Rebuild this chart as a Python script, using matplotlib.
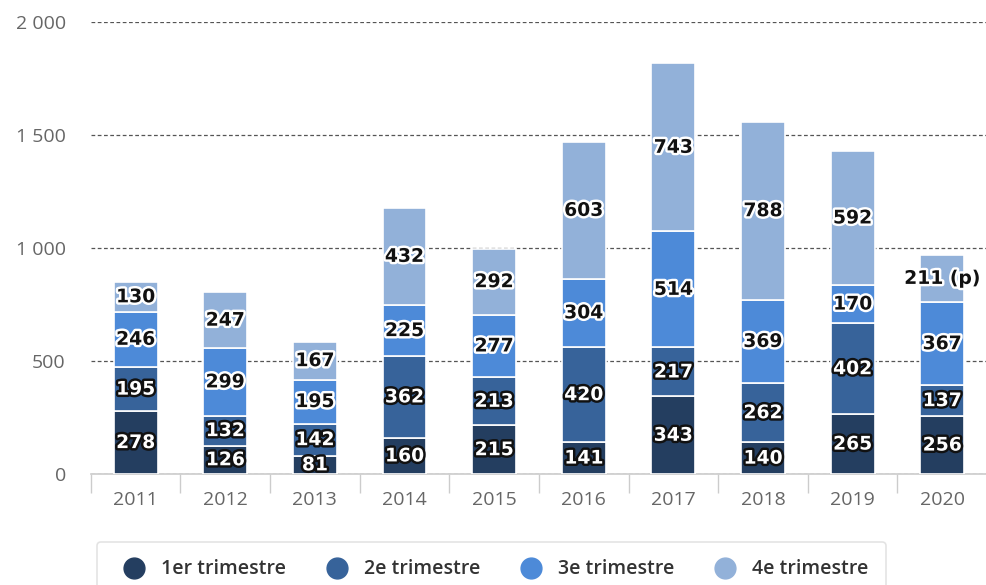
import numpy as np
import matplotlib.pyplot as plt
import matplotlib.patheffects as pe
from matplotlib.lines import Line2D

years = ['2011', '2012', '2013', '2014', '2015', '2016', '2017', '2018', '2019', '2020']
q1 = [278, 126, 81, 160, 215, 141, 343, 140, 265, 256]
q2 = [195, 132, 142, 362, 213, 420, 217, 262, 402, 137]
q3 = [246, 299, 195, 225, 277, 304, 514, 369, 170, 367]
q4 = [130, 247, 167, 432, 292, 603, 743, 788, 592, 211]
series = ['1er trimestre', '2e trimestre', '3e trimestre', '4e trimestre']
colors = ['#243e60', '#37639a', '#4d8ad8', '#92b1d9']

plt.rcParams['font.family'] = ['Open Sans', 'DejaVu Sans']

fig = plt.figure(figsize=(9.87, 5.85), dpi=100)
ax = fig.add_axes([90.8 / 987, 1 - 474 / 585, 1 - 90.8 / 987, (474 - 22) / 585])

x = np.arange(len(years))
bottom = np.zeros(len(years))
for k, vals in enumerate([q1, q2, q3, q4]):
    vals = np.array(vals)
    ax.bar(x, vals, width=0.49, bottom=bottom, color=colors[k],
           edgecolor='white', linewidth=1.2, zorder=3)
    for i, v in enumerate(vals):
        txt = str(v)
        if k == 3 and years[i] == '2020':
            txt = '211 (p)'
        if k < 2:
            fc, sc = 'white', '#111111'
        else:
            fc, sc = '#111111', 'white'
        ax.text(x[i], bottom[i] + v / 2, txt, ha='center', va='center',
                fontsize=13.5, fontweight='bold', family='DejaVu Sans',
                color=fc, zorder=5,
                path_effects=[pe.withStroke(linewidth=3.5, foreground=sc)])
    bottom = bottom + vals

ax.set_xlim(-0.5, 9.41)
ax.set_ylim(0, 2000)
ax.set_yticks([0, 500, 1000, 1500, 2000])
ax.set_yticklabels(['0', '500', '1 000', '1 500', '2 000'])
ax.yaxis.grid(True, linestyle=(0, (3, 2)), color='#555555', linewidth=0.9, zorder=0)
ax.tick_params(axis='y', length=0, labelsize=14, labelcolor='#666666', pad=18)

ax.set_xticks(x)
ax.set_xticklabels(years)
ax.set_xticks(np.arange(-0.5, 10, 1), minor=True)
ax.tick_params(axis='x', which='major', length=0, labelsize=14, labelcolor='#666666', pad=12)
ax.tick_params(axis='x', which='minor', length=14, color='#cccccc', width=1)

for s in ['top', 'right', 'left']:
    ax.spines[s].set_visible(False)
ax.spines['bottom'].set_color('#cccccc')
ax.spines['bottom'].set_linewidth(1.2)

handles = [Line2D([], [], marker='o', linestyle='none', markersize=15,
                  markerfacecolor=c, markeredgecolor=c) for c in colors]
leg = fig.legend(handles, series, loc='lower left',
                 bbox_to_anchor=(97 / 987, -12 / 585), ncol=4, borderaxespad=0,
                 frameon=True, fancybox=True,
                 handletextpad=0.4, columnspacing=1.6, borderpad=0.9,
                 prop={'weight': 'semibold', 'size': 14})
leg.get_frame().set_edgecolor('#dddddd')
leg.get_frame().set_linewidth(1.2)
for t in leg.get_texts():
    t.set_color('#333333')

fig.savefig('out.png', dpi=100)
